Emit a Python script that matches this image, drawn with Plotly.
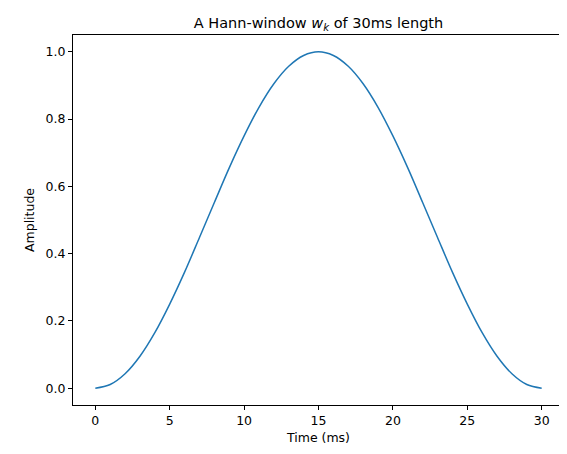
import plotly.graph_objects as go

time_ms = list(range(0, 31))
amplitude = [0.0, 0.011, 0.043, 0.095, 0.165, 0.25, 0.345, 0.448, 0.552, 0.655, 0.75, 0.835, 0.905, 0.957, 0.989, 1.0,
             0.989, 0.957, 0.905, 0.835, 0.75, 0.655, 0.552, 0.448, 0.345, 0.25, 0.165, 0.095, 0.043, 0.011, 0.0]
x_ticks = [0, 5, 10, 15, 20, 25, 30]
y_ticks = [0.0, 0.2, 0.4, 0.6, 0.8, 1.0]

fig = go.Figure(go.Scatter(x=time_ms, y=amplitude, mode="lines", line=dict(color="#1f77b4", width=1.5, shape="spline")))
axis = dict(showline=True, linecolor="black", linewidth=1, mirror=True, ticks="outside", ticklen=4,
            tickcolor="black", showgrid=False, zeroline=False, tickfont=dict(size=12.5, color="black"))
fig.update_layout(
    width=567, height=454, paper_bgcolor="white", plot_bgcolor="white",
    margin=dict(l=65, r=11, t=27, b=57),
    font=dict(family="DejaVu Sans", color="black"),
    title=dict(text="A Hann-window <i>w</i><sub><i>k</i></sub> of 30ms length", x=(65 + 556) / 2 / 567,
               xanchor="center", y=1 - 15 / 454, yanchor="middle", font=dict(size=14.5)),
    xaxis=dict(axis, range=[-1.5, 31.5], tickvals=x_ticks, ticktext=[str(v) for v in x_ticks],
               title=dict(text="Time (ms)", font=dict(size=12.5), standoff=6)),
    yaxis=dict(axis, range=[-0.05, 1.05], tickvals=y_ticks, ticktext=[f"{v:.1f}" for v in y_ticks],
               title=dict(text="Amplitude", font=dict(size=12.5), standoff=8)),
    showlegend=False,
)
fig.write_html("out.html")
